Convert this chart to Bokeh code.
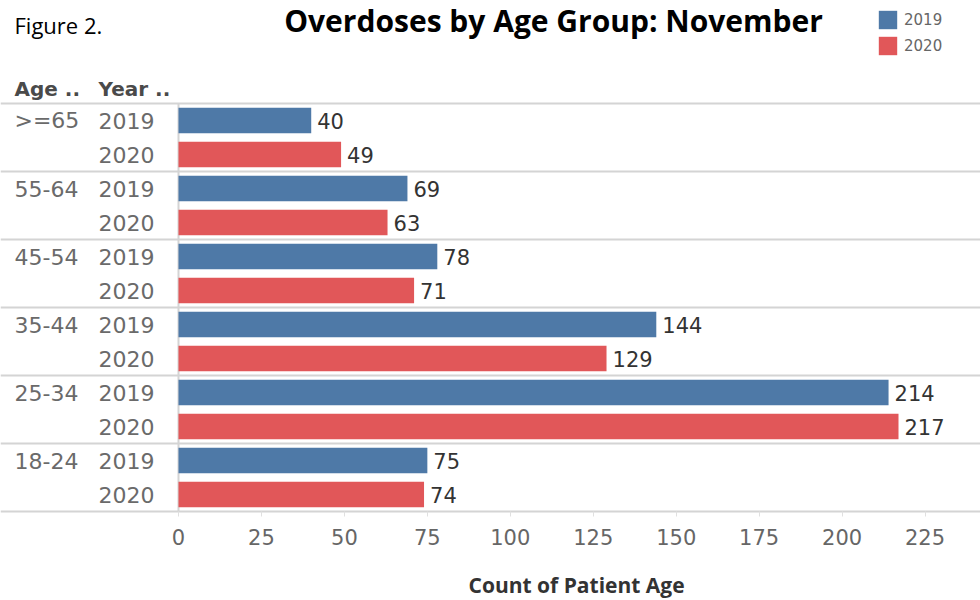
from bokeh.plotting import figure
from bokeh.models import ColumnDataSource, Range1d, FixedTicker, Legend, LegendItem
from bokeh.core.properties import value
from bokeh.embed import file_html
from bokeh.resources import INLINE

# ---- data ----
ages = [">=65", "55-64", "45-54", "35-44", "25-34", "18-24"]
years = ["2019", "2020"]
counts_2019 = [40, 69, 78, 144, 214, 75]
counts_2020 = [49, 63, 71, 129, 217, 74]
tick_values = [0, 25, 50, 75, 100, 125, 150, 175, 200, 225]
colors = {"2019": "#4e79a7", "2020": "#e15759"}

# ---- layout helpers (pixel -> data) ----
W, H = 980, 600
X0_PX = 178.0
PX_PER_UNIT = 3.318
ROW0_PX = 120.0
ROW_H = 34.0
def dx(px):
    return (px - X0_PX) / PX_PER_UNIT
def dy(py):
    return (py - ROW0_PX) / ROW_H

n_rows = 2 * len(ages)

# build rows
rows = {yr: dict(row=[], value=[], label=[]) for yr in years}
for i, age in enumerate(ages):
    for j, (yr, vals) in enumerate(zip(years, [counts_2019, counts_2020])):
        rows[yr]["row"].append(2 * i + j)
        rows[yr]["value"].append(vals[i])
        rows[yr]["label"].append(str(vals[i]))

p = figure(width=W, height=H, output_backend="svg", toolbar_location=None,
           x_range=Range1d(dx(0), dx(W)), y_range=Range1d(dy(H), dy(0)),
           y_axis_location=None, min_border_left=0, min_border_right=0,
           min_border_top=0, min_border_bottom=0, outline_line_color=None)
p.xgrid.visible = False
p.ygrid.visible = False

sep_color = "#d4d4d4"
# group separators (including the bottom one)
p.hspan(y=[2 * i - 0.5 for i in range(len(ages) + 1)], line_color=sep_color, line_width=2)
# vertical zero line
p.segment(x0=[0], y0=[-0.5], x1=[0], y1=[n_rows - 0.5], line_color=sep_color, line_width=2)

renderers = {}
for yr in years:
    src = ColumnDataSource(rows[yr])
    renderers[yr] = p.hbar(y="row", left=0, right="value", height=0.75, source=src,
                           fill_color=colors[yr], line_color=None)
    p.text(x="value", y="row", text="label", source=src, x_offset=6,
           text_baseline="middle", text_align="left",
           text_font=value("DejaVu Sans"), text_font_size="21px", text_color="#333333")

# row labels
lab_font = value("DejaVu Sans")
p.text(x=[dx(14)] * len(ages), y=[2 * i for i in range(len(ages))], text=ages,
       text_baseline="middle", text_align="left", text_font=lab_font,
       text_font_size="22px", text_color="#6a6a6a")
p.text(x=[dx(98)] * n_rows, y=list(range(n_rows)),
       text=[years[k % 2] for k in range(n_rows)],
       text_baseline="middle", text_align="left", text_font=lab_font,
       text_font_size="22px", text_color="#6a6a6a")
# headers
p.text(x=[dx(14), dx(98)], y=[dy(88), dy(88)], text=["Age ..", "Year .."],
       text_baseline="middle", text_align="left", text_font=value("DejaVu Sans"),
       text_font_style="bold", text_font_size="20px", text_color="#4a4a4a")
# titles
p.text(x=[dx(14)], y=[dy(24)], text=["Figure 2."], text_baseline="middle",
       text_align="left", text_font=value("Open Sans"), text_font_size="22px",
       text_color="#000000")
p.text(x=[dx(553)], y=[dy(20)], text=["Overdoses by Age Group: November"],
       text_baseline="middle", text_align="center", text_font=value("Open Sans"),
       text_font_style="bold", text_font_size="30px", text_color="#000000")
# axis title
p.text(x=[dx(468)], y=[dy(584)], text=["Count of Patient Age"],
       text_baseline="middle", text_align="left", text_font=value("Open Sans"),
       text_font_style="bold", text_font_size="21px", text_color="#333333")

# legend
legend = Legend(items=[LegendItem(label=yr, renderers=[renderers[yr]]) for yr in years],
                location=(876, H - 57), glyph_width=23, glyph_height=23, label_height=23,
                label_standoff=5, spacing=3, padding=0, margin=0,
                border_line_color=None, background_fill_alpha=0,
                label_text_font="DejaVu Sans", label_text_font_size="15px",
                label_text_color="#666666")
p.add_layout(legend)

# x axis, drawn at the bottom of the last group
ax = p.xaxis[0]
ax.fixed_location = n_rows - 0.5
ax.ticker = FixedTicker(ticks=tick_values)
ax.major_label_text_font = "DejaVu Sans"
ax.major_label_text_font_size = "21px"
ax.major_label_text_color = "#666666"
ax.major_tick_in = 0
ax.major_tick_out = 5
ax.major_tick_line_color = "#e0e0e0"
ax.minor_tick_out = 0
ax.minor_tick_in = 0
ax.major_label_standoff = 12
ax.axis_line_color = None

open("out.html", "w").write(file_html(p, INLINE))
